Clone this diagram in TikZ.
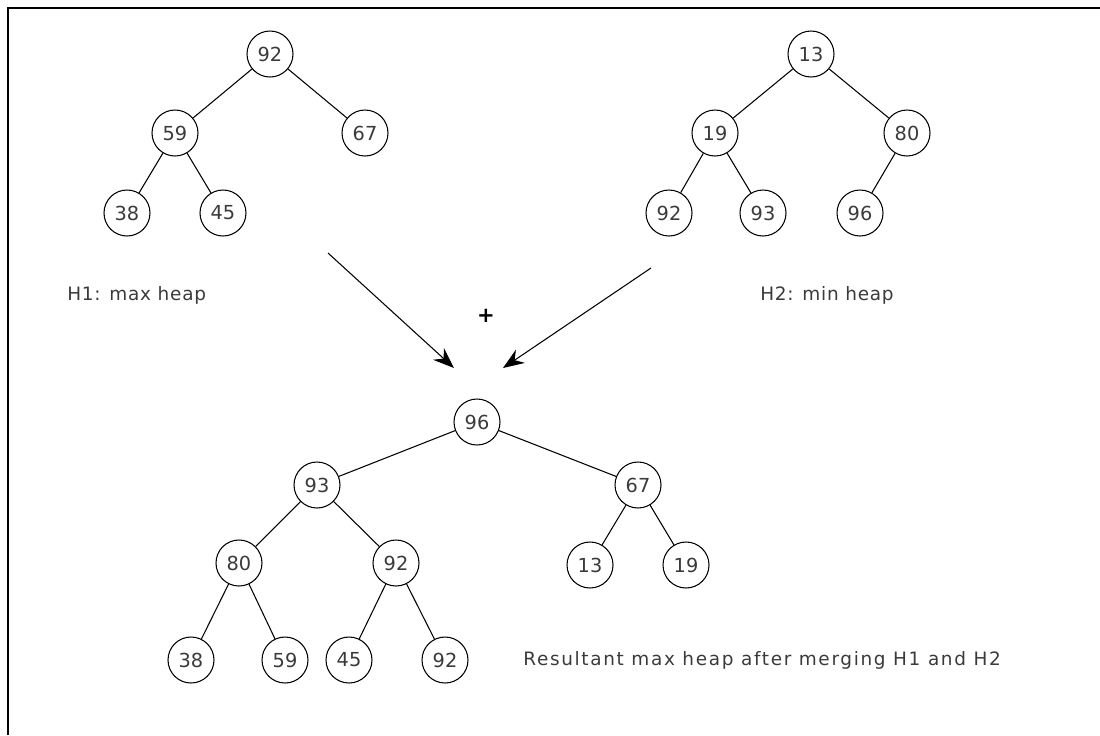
\documentclass[tikz,border=0pt]{standalone}
\usepackage{fontspec}
\setmainfont{DejaVu Sans}
\newfontfamily\widefont[LetterSpace=9]{DejaVu Sans}
\newfontfamily\labelfont[LetterSpace=4]{DejaVu Sans}
\usepackage{xcolor}
\usetikzlibrary{
    arrows.meta,
    positioning
}
\definecolor{inkgray}{HTML}{3A3A3A}

\tikzset{
    key/.style={draw, circle, line width=0.6pt, minimum size=9.2mm, inner sep=0pt,
        text=inkgray, font=\fontsize{11}{12}\selectfont},
    branch/.style={line width=0.6pt},
    merge/.style={line width=0.6pt, -{Stealth[length=4.2mm, width=3.2mm, inset=1.4mm]}},
    caption/.style={text=inkgray, font=\labelfont\fontsize{10.5}{12}\selectfont, inner sep=0pt},
    longcaption/.style={caption, font=\widefont\fontsize{10.5}{12}\selectfont}
}

\begin{document}
\begin{tikzpicture}[x=0.2mm, y=-0.2mm]
                        \useasboundingbox (0, 0) rectangle (1100, 735);
                        \draw[line width=1.1pt] (8, 735) -- (8, 8) -- (1100, 8);

                        % H1
                        \node[key] (a92) at (270, 54) {92};
                        \node[key] (a59) at (175, 133) {59};
                        \node[key] (a67) at (365, 133) {67};
                        \node[key] (a38) at (127, 213) {38};
                        \node[key] (a45) at (223, 213) {45};
                        \draw[branch]
                        (a92) -- (a59)
                        (a92) -- (a67)
                        (a59) -- (a38)
                        (a59) -- (a45);

                        % H2
                        \node[key] (b13) at (811, 54) {13};
                        \node[key] (b19) at (715, 133) {19};
                        \node[key] (b80) at (907, 133) {80};
                        \node[key] (b92) at (669, 213) {92};
                        \node[key] (b93) at (763, 213) {93};
                        \node[key] (b96) at (860, 213) {96};
                        \draw[branch]
                        (b13) -- (b19)
                        (b13) -- (b80)
                        (b19) -- (b92)
                        (b19) -- (b93)
                        (b80) -- (b96);

                        \node[caption, anchor=west] (h1) at (67, 295) {H1: max heap};
                        \node[caption, anchor=west] (h2) at (760, 295) {H2: min heap};
                        \node[font=\bfseries\large] (plus) at (486, 316) {+};

                        \coordinate (l0) at (328, 253);
                        \coordinate (l1) at (454, 368);
                        \coordinate (r0) at (651, 268);
                        \coordinate (r1) at (503, 368);
                        \draw[merge] (l0) -- (l1);
                        \draw[merge] (r0) -- (r1);

                        % merged heap
                        \node[key] (c96) at (477, 422) {96};
                        \node[key] (c93) at (317, 485) {93};
                        \node[key] (c67) at (638, 485) {67};
                        \node[key] (c80) at (239, 563) {80};
                        \node[key] (c92) at (396, 563) {92};
                        \node[key] (c13) at (590, 565) {13};
                        \node[key] (c19) at (686, 565) {19};
                        \node[key] (c38) at (191, 660) {38};
                        \node[key] (c59) at (285, 660) {59};
                        \node[key] (c45) at (349, 660) {45};
                        \node[key] (c92b) at (445, 660) {92};
                        \draw[branch]
                        (c96) -- (c93)
                        (c96) -- (c67)
                        (c93) -- (c80)
                        (c93) -- (c92)
                        (c67) -- (c13)
                        (c67) -- (c19)
                        (c80) -- (c38)
                        (c80) -- (c59)
                        (c92) -- (c45)
                        (c92) -- (c92b);

                        \node[longcaption, anchor=west] (res) at (523, 660) {Resultant max heap after merging H1 and H2};
                    \end{tikzpicture}
\end{document}
